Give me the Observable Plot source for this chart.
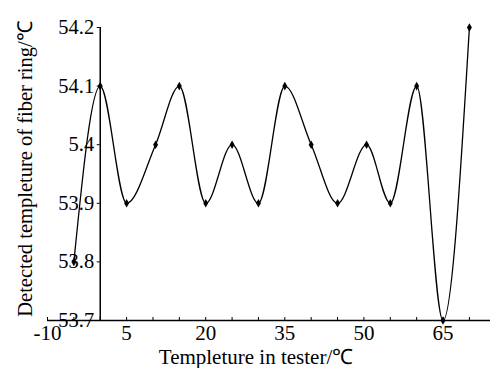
<!DOCTYPE html>
<html>
<head>
<meta charset="utf-8">
<script src="https://cdn.jsdelivr.net/npm/d3@7"></script>
<script src="https://cdn.jsdelivr.net/npm/@observablehq/plot@0.6"></script>
<style>
  html, body { margin: 0; padding: 0; background: #fff; }
  svg { display: block; }
  svg text { font-family: "Liberation Serif", "Times New Roman", serif !important; font-variant: normal !important; }
</style>
</head>
<body>
<div id="chart"></div>
<script>
const xVals = [-5, 0, 5, 10.5, 15, 20, 25, 30, 35, 40, 45, 50.5, 55, 60, 65, 70];
const yVals = [53.8, 54.1, 53.9, 54.0, 54.1, 53.9, 54.0, 53.9, 54.1, 54.0, 53.9, 54.0, 53.9, 54.1, 53.7, 54.2];
const xTickValues = [-10, -5, 0, 5, 10, 15, 20, 25, 30, 35, 40, 45, 50, 55, 60, 65, 70];
const xLabelValues = [-10, 5, 20, 35, 50, 65];
const yTickValues = [53.7, 53.8, 53.9, 54.0, 54.1, 54.2];
const yTickLabels = ["53.7", "53.8", "53.9", "5.4", "54.1", "54.2"];
const xTitle = "Templeture in tester/℃";
const yTitle = "Detected templeture of fiber ring/℃";

const data = xVals.map((x, i) => ({x, y: yVals[i]}));
const yLabelOf = new Map(yTickValues.map((v, i) => [v.toFixed(1), yTickLabels[i]]));
const serif = "'Liberation Serif', 'Times New Roman', serif";

const chart = Plot.plot({
  width: 490,
  height: 368,
  marginLeft: 47,
  marginRight: 0,
  marginTop: 27,
  marginBottom: 48,
  style: {fontFamily: serif, color: "#000", background: "#fff"},
  x: {domain: [-10, 74], label: null},
  y: {domain: [53.7, 54.2], label: null},
  marks: [
    Plot.ruleY([53.7], {stroke: "#000", strokeWidth: 1.5}),
    Plot.ruleX([0], {y1: 53.7, y2: 54.2, stroke: "#000", strokeWidth: 1.5}),
    Plot.axisX({ticks: xTickValues, tickSize: -3, tickFormat: () => "", label: null, stroke: "#000"}),
    Plot.axisX({ticks: xLabelValues, tickSize: 0, tickPadding: 5, fontSize: 21, label: null,
      tickFormat: d => String(d), fill: "#000"}),
    Plot.axisY({ticks: yTickValues, x: 0, anchor: "left", tickSize: 3, tickPadding: 3, fontSize: 20.5, label: null,
      tickFormat: d => yLabelOf.get(d.toFixed(1)), fill: "#000", stroke: "#000"}),
    Plot.line(data, {x: "x", y: "y", curve: "monotone-x", stroke: "#000", strokeWidth: 1.3}),
    Plot.dot(data, {x: "x", y: "y", symbol: "diamond", r: 2.6, fill: "#000", stroke: "none"}),
    Plot.text([xTitle], {frameAnchor: "bottom", lineAnchor: "middle", dy: 36.5, dx: -13, fontSize: 21, fill: "#000"}),
    Plot.text([yTitle], {frameAnchor: "left", textAnchor: "middle", lineAnchor: "middle", rotate: -90,
      dx: -22, dy: -5, fontSize: 20.5, fill: "#000"})
  ]
});
document.getElementById("chart").appendChild(chart);
</script>
</body>
</html>
